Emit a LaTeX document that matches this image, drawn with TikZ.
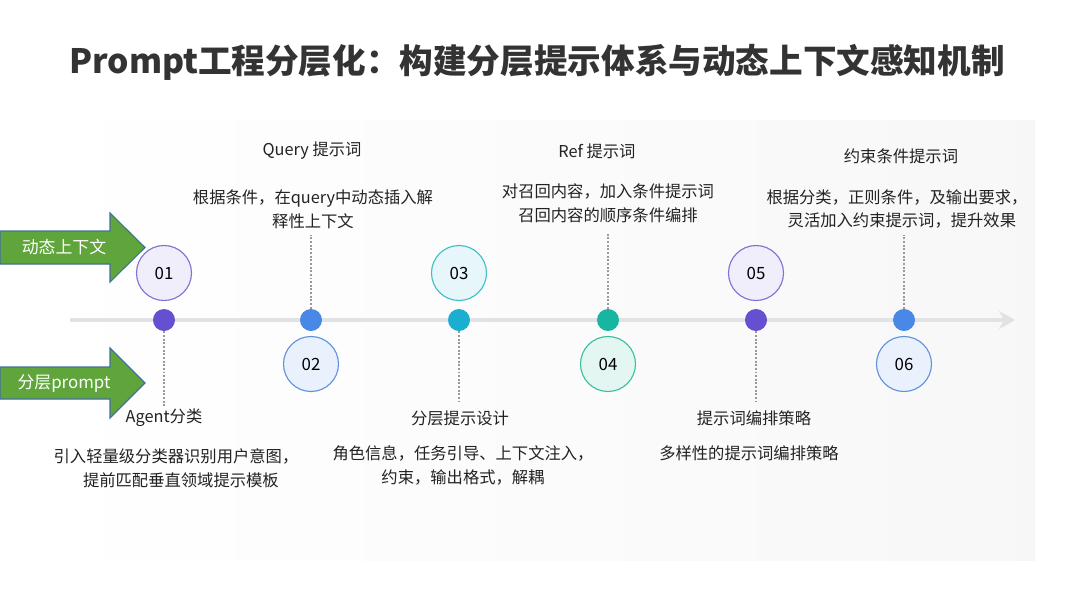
\documentclass[tikz,border=0pt]{standalone}
\usepackage{fontspec}
\setmainfont{Noto Sans CJK SC}
\usetikzlibrary{arrows.meta}
\definecolor{txt}{HTML}{222222}
\definecolor{ttl}{HTML}{333333}
\definecolor{agreen}{RGB}{96,165,60}
\definecolor{aedge}{HTML}{41719C}
\definecolor{pdot}{HTML}{6650D0}
\definecolor{bdot}{HTML}{4A88E6}
\definecolor{cdot}{HTML}{1AAED0}
\definecolor{tdot}{HTML}{18B5A0}
\definecolor{pfill}{HTML}{F0EEFA}
\definecolor{pedge}{HTML}{7E72D2}
\definecolor{bfill}{HTML}{E9F2FC}
\definecolor{bedge}{HTML}{5E92DE}
\definecolor{cfill}{HTML}{E7F6FB}
\definecolor{cedge}{HTML}{3EBFC4}
\definecolor{tfill}{HTML}{E4F6F2}
\definecolor{tedge}{HTML}{38C0A2}
\definecolor{tline}{HTML}{E2E2E6}
\tikzset{
  lbl/.style={text=txt,font=\fontsize{11.6}{17}\selectfont,align=center,inner sep=0pt},
  numc/.style={circle,minimum size=55*0.025cm,inner sep=0pt,line width=0.8pt,font=\fontsize{12}{14}\selectfont,text=black},
  dotn/.style={circle,minimum size=22*0.025cm,inner sep=0pt},
  guide/.style={draw=gray!80,line width=1.5pt,dash pattern=on 1.4pt off 1.2pt},
  garrow/.style={fill=agreen,draw=aedge,line width=0.8pt},
  atext/.style={text=white,font=\fontsize{12}{14}\selectfont,inner sep=0pt}
}
\begin{document}
\begin{tikzpicture}[x=0.025cm,y=-0.025cm]
\useasboundingbox (0,0) rectangle (1080,608);
\fill[white] (0,0) rectangle (1080,608);
\shade[left color=white,right color=black!3] (40,120) rectangle (1035,560);
% title
\node[font=\fontsize{23.9}{29}\selectfont\bfseries,text=ttl] (title) at (537,62) {Prompt工程分层化：构建分层提示体系与动态上下文感知机制};
% timeline
\coordinate (ls) at (70,320);
\coordinate (le) at (1015,320);
\draw[tline,line width=3.5pt,-{Stealth[length=16*0.025cm,width=18*0.025cm]}] (ls) -- (le);
% dots
\node[dotn,fill=pdot] (d1) at (164,320) {};
\node[dotn,fill=bdot] (d2) at (311,320) {};
\node[dotn,fill=cdot] (d3) at (459,320) {};
\node[dotn,fill=tdot] (d4) at (608,320) {};
\node[dotn,fill=pdot] (d5) at (756,320) {};
\node[dotn,fill=bdot] (d6) at (904,320) {};
% number circles
\node[numc,fill=pfill,draw=pedge] (c1) at (164,273) {01};
\node[numc,fill=bfill,draw=bedge] (c2) at (311,364) {02};
\node[numc,fill=cfill,draw=cedge] (c3) at (459,273) {03};
\node[numc,fill=tfill,draw=tedge] (c4) at (608,364) {04};
\node[numc,fill=pfill,draw=pedge] (c5) at (756,273) {05};
\node[numc,fill=bfill,draw=bedge] (c6) at (904,364) {06};
% guide end points
\coordinate (g1) at (164,408);
\coordinate (g2) at (311,235);
\coordinate (g3) at (459,402);
\coordinate (g4) at (608,232);
\coordinate (g5) at (756,402);
\coordinate (g6) at (904,235);
\draw[guide] (d1.south) -- (g1);
\draw[guide] (d2.north) -- (g2);
\draw[guide] (d3.south) -- (g3);
\draw[guide] (d4.north) -- (g4);
\draw[guide] (d5.south) -- (g5);
\draw[guide] (d6.north) -- (g6);
% upper labels
\node[lbl] (h2) at (312,151) {Query 提示词};
\node[lbl] (b2) at (313,209) {根据条件，在query中动态插入解\\释性上下文};
\node[lbl] (h4) at (597,151) {Ref 提示词};
\node[lbl] (b4) at (608,203) {对召回内容，加入条件提示词\\召回内容的顺序条件编排};
\node[lbl] (h6) at (901,156) {约束条件提示词};
\node[lbl] (b6) at (897,209) {根据分类，正则条件，及输出要求，\\\hspace*{0.6em}灵活加入约束提示词，提升效果};
% lower labels
\node[lbl] (h1) at (164,418) {Agent分类};
\node[lbl] (b1) at (176,468) {引入轻量级分类器识别用户意图，\\\hspace*{0.6em}提前匹配垂直领域提示模板};
\node[lbl] (h3) at (460,418) {分层提示设计};
\node[lbl] (b3) at (463,465) {角色信息，任务引导、上下文注入，\\约束，输出格式，解耦};
\node[lbl] (h5) at (754,418) {提示词编排策略};
\node[lbl] (b5) at (749,453) {多样性的提示词编排策略};
% green arrows
\draw[garrow] (0,231) -- (110,231) -- (110,213) -- (145,247.5) -- (110,282) -- (110,264) -- (0,264) -- cycle;
\node[atext] (a1) at (64,247) {动态上下文};
\draw[garrow] (0,367) -- (110,367) -- (110,348) -- (145,383) -- (110,418) -- (110,399) -- (0,399) -- cycle;
\node[atext] (a2) at (64,383) {分层prompt};
\end{tikzpicture}
\end{document}
